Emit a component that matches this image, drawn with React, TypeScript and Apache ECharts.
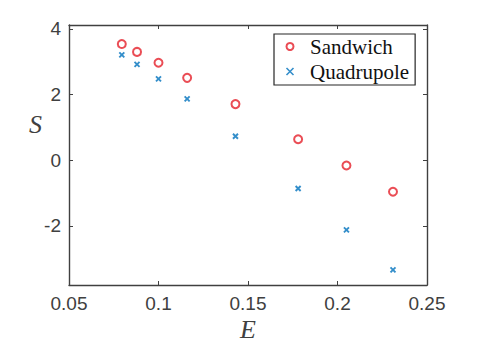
import React, { useEffect, useRef } from "react";
import * as echarts from "echarts";

const eValues = [0.0795, 0.088, 0.1, 0.116, 0.143, 0.178, 0.205, 0.231];
const sandwich = [3.54, 3.3, 2.97, 2.51, 1.71, 0.64, -0.16, -0.96];
const quadrupole = [3.21, 2.92, 2.48, 1.87, 0.73, -0.86, -2.12, -3.34];
const yTicks = [-2, 0, 2, 4];
const xTicks = [0.05, 0.1, 0.15, 0.2, 0.25];

const AXIS = "#404040";
const XMARK = "path://M0,0L10,10M10,0L0,10";
const SERIF = "Liberation Serif";
const SANS = "Liberation Sans";

export default function App() {
  const ref = useRef<HTMLDivElement>(null);
  useEffect(() => {
    document.body.style.margin = "0";
    if (!ref.current) return;
    const chart = echarts.init(ref.current, undefined, { renderer: "svg" });
    const axisCommon = {
      axisLine: { show: true, onZero: false, lineStyle: { color: AXIS, width: 1.4 } },
      axisTick: { show: true, inside: true, length: 4, lineStyle: { color: AXIS, width: 1 } },
      splitLine: { show: false },
    };
    const legendText = { fontFamily: SERIF, fontSize: 21, color: "#111111" };
    chart.setOption({
      animation: false,
      backgroundColor: "#ffffff",
      textStyle: { fontFamily: SERIF },
      grid: { left: 69, top: 25, right: 63, bottom: 62 },
      xAxis: [
        {
          type: "value",
          min: 0.05,
          max: 0.25,
          ...axisCommon,
          axisTick: { ...axisCommon.axisTick, customValues: xTicks },
          axisLabel: {
            customValues: xTicks,
            color: AXIS,
            fontSize: 19,
            fontFamily: SANS,
            margin: 9,
            formatter: (v: number) => String(Math.round(v * 100) / 100),
          },
        },
        {
          type: "value",
          position: "top",
          min: 0.05,
          max: 0.25,
          ...axisCommon,
          axisTick: { ...axisCommon.axisTick, customValues: xTicks },
          axisLabel: { show: false },
        },
      ],
      yAxis: [
        {
          type: "value",
          min: -3.8,
          max: 4.12,
          ...axisCommon,
          axisTick: { ...axisCommon.axisTick, customValues: yTicks },
          axisLabel: {
            customValues: yTicks,
            color: AXIS,
            fontSize: 19,
            fontFamily: SANS,
            margin: 8,
          },
        },
        {
          type: "value",
          position: "right",
          min: -3.8,
          max: 4.12,
          ...axisCommon,
          axisTick: { ...axisCommon.axisTick, customValues: yTicks },
          axisLabel: { show: false },
        },
      ],
      legend: {
        orient: "vertical",
        left: 274,
        top: 34,
        padding: [2, 6, 3, 10],
        itemWidth: 30,
        itemHeight: 7,
        itemGap: 4,
        borderColor: "#262626",
        borderWidth: 1.2,
        backgroundColor: "#ffffff",
        textStyle: legendText,
        data: [
          { name: "Sandwich", textStyle: legendText },
          { name: "Quadrupole", textStyle: legendText, itemStyle: { borderWidth: 1.6 } },
        ],
      },
      graphic: [
        {
          type: "text",
          left: 29,
          top: 111,
          style: {
            text: "S",
            font: "italic 26px 'Liberation Serif', serif",
            fill: "#404040",
          },
        },
        {
          type: "text",
          left: 240,
          top: 316,
          style: {
            text: "E",
            font: "italic 26px 'Liberation Serif', serif",
            fill: "#404040",
          },
        },
      ],
      series: [
        {
          name: "Sandwich",
          type: "scatter",
          symbol: "emptyCircle",
          symbolSize: 8,
          itemStyle: { color: "#e5202a", borderColor: "#e5202a", borderWidth: 1.8 },
          data: eValues.map((e, i) => [e, sandwich[i]]),
        },
        {
          name: "Quadrupole",
          type: "scatter",
          symbol: XMARK,
          symbolSize: 5,
          itemStyle: { color: "none", borderColor: "#0072bd", borderWidth: 1.9 },
          data: eValues.map((e, i) => [e, quadrupole[i]]),
        },
      ],
    });
    return () => chart.dispose();
  }, []);
  return <div ref={ref} style={{ width: 490, height: 347 }} />;
}
